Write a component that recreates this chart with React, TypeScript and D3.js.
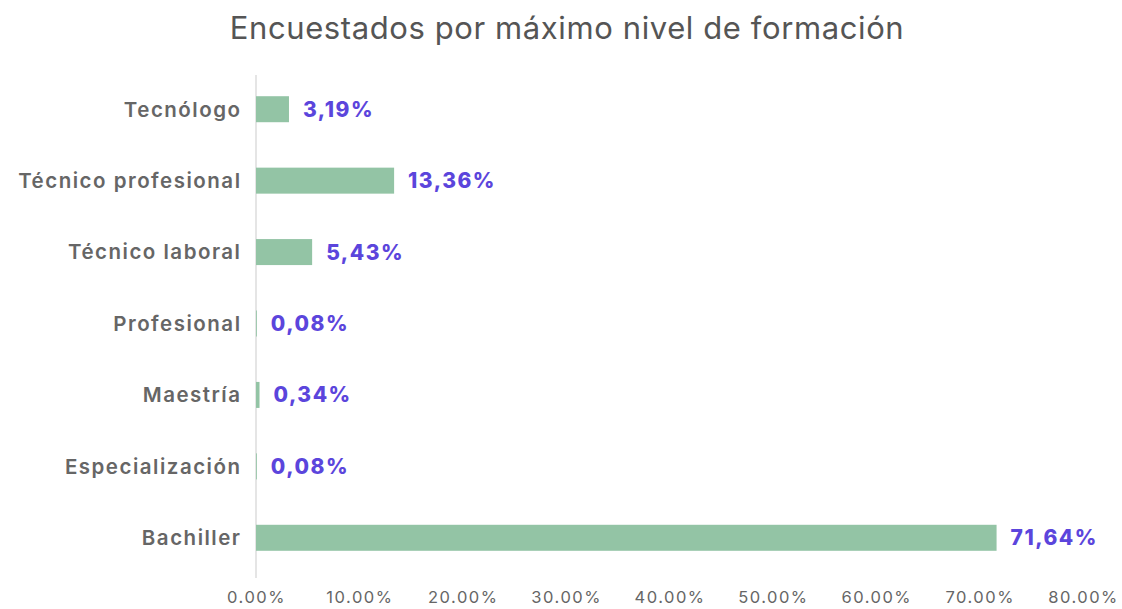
import React, { useEffect, useRef } from 'react'
import * as d3 from 'd3'

const categories = [
  'Tecnólogo',
  'Técnico profesional',
  'Técnico laboral',
  'Profesional',
  'Maestría',
  'Especialización',
  'Bachiller',
]
const values = [3.19, 13.36, 5.43, 0.08, 0.34, 0.08, 71.64]
const valueLabels = ['3,19%', '13,36%', '5,43%', '0,08%', '0,34%', '0,08%', '71,64%']
const xTicks = [0, 10, 20, 30, 40, 50, 60, 70, 80]

const W = 1122
const H = 609
const FONT = 'Inter, "Noto Sans", sans-serif'

const App = () => {
  const svgRef = useRef<SVGSVGElement>(null)

  useEffect(() => {
    document.body.style.margin = '0'
    const svg = d3.select(svgRef.current)
    svg.selectAll('*').remove()

    const x = d3.scaleLinear().domain([0, 80]).range([256, 1083])
    const y = d3
      .scaleBand()
      .domain(categories)
      .range([73.5, 573.5])
      .paddingInner(0.636)
      .paddingOuter(0.318)

    svg
      .append('text')
      .attr('x', 567)
      .attr('y', 39)
      .attr('text-anchor', 'middle')
      .attr('font-family', FONT)
      .attr('font-size', 31)
      .attr('letter-spacing', 0.6)
      .attr('fill', '#555')
      .text('Encuestados por máximo nivel de formación')

    // vertical baseline
    svg
      .append('line')
      .attr('x1', x(0))
      .attr('x2', x(0))
      .attr('y1', 75)
      .attr('y2', 578)
      .attr('stroke', '#dcdcdc')
      .attr('stroke-width', 1.5)

    const data = categories.map((c, i) => ({ c, v: values[i], l: valueLabels[i] }))

    svg
      .selectAll('.bar')
      .data(data)
      .join('rect')
      .attr('class', 'bar')
      .attr('x', x(0))
      .attr('y', d => y(d.c)!)
      .attr('width', d => x(d.v) - x(0))
      .attr('height', y.bandwidth())
      .attr('fill', '#93c4a5')

    svg
      .selectAll('.val')
      .data(data)
      .join('text')
      .attr('class', 'val')
      .attr('x', d => x(d.v) + 14)
      .attr('y', d => y(d.c)! + y.bandwidth() / 2)
      .attr('dy', '0.36em')
      .attr('font-family', FONT)
      .attr('font-weight', 800)
      .attr('font-size', 21)
      .attr('letter-spacing', 1.5)
      .attr('fill', '#5b45dc')
      .text(d => d.l)

    svg
      .selectAll('.cat')
      .data(data)
      .join('text')
      .attr('class', 'cat')
      .attr('x', 241.5)
      .attr('y', d => y(d.c)! + y.bandwidth() / 2)
      .attr('dy', '0.36em')
      .attr('text-anchor', 'end')
      .attr('font-family', FONT)
      .attr('font-weight', 600)
      .attr('font-size', 20.5)
      .attr('letter-spacing', 1.5)
      .attr('fill', '#666')
      .text(d => d.c)

    const xAxis = d3
      .axisBottom(x)
      .tickValues(xTicks)
      .tickSize(0)
      .tickPadding(0)
      .tickFormat(d => `${(+d).toFixed(2)}%`)

    const gx = svg.append('g').attr('transform', 'translate(0,591)').call(xAxis)
    gx.select('.domain').remove()
    gx.selectAll('text')
      .attr('font-family', FONT)
      .attr('font-size', 16.5)
      .attr('letter-spacing', 1.5)
      .attr('fill', '#666')
  }, [])

  return (
    <svg ref={svgRef} width={W} height={H} style={{ display: 'block', background: '#fff' }} />
  )
}

export default App
